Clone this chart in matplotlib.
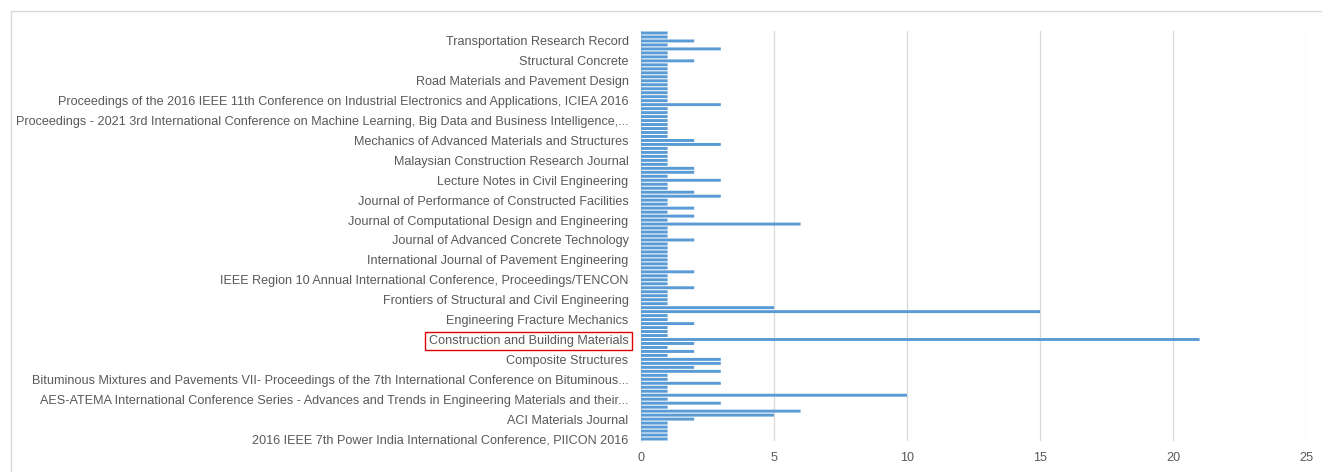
import matplotlib
matplotlib.use("Agg")
import matplotlib.pyplot as plt
from matplotlib.patches import Rectangle

# article counts per source, bottom (index 0) to top
counts = [
    1, 1, 1, 1, 1, 2, 5, 6, 1, 3,
    1, 10, 1, 1, 3, 1, 1, 3, 2, 3,
    3, 1, 2, 1, 2, 21, 1, 1, 1, 2,
    1, 1, 15, 5, 1, 1, 1, 1, 2, 1,
    1, 1, 2, 1, 1, 1, 1, 1, 1, 1,
    2, 1, 1, 1, 6, 1, 2, 1, 2, 1,
    1, 3, 2, 1, 1, 3, 1, 2, 2, 1,
    1, 1, 1, 1, 3, 2, 1, 1, 1, 1,
    1, 1, 1, 1, 3, 1, 1, 1, 1, 1,
    1, 1, 1, 1, 1, 2, 1, 1, 3, 1,
    2, 1, 1,
]

# only every 5th category is labelled on the axis
label_idx = list(range(0, 101, 5))
labels = [
    "2016 IEEE 7th Power India International Conference, PIICON 2016",
    "ACI Materials Journal",
    "AES-ATEMA International Conference Series - Advances and Trends in Engineering Materials and their...",
    "Bituminous Mixtures and Pavements VII- Proceedings of the 7th International Conference on Bituminous...",
    "Composite Structures",
    "Construction and Building Materials",
    "Engineering Fracture Mechanics",
    "Frontiers of Structural and Civil Engineering",
    "IEEE Region 10 Annual International Conference, Proceedings/TENCON",
    "International Journal of Pavement Engineering",
    "Journal of Advanced Concrete Technology",
    "Journal of Computational Design and Engineering",
    "Journal of Performance of Constructed Facilities",
    "Lecture Notes in Civil Engineering",
    "Malaysian Construction Research Journal",
    "Mechanics of Advanced Materials and Structures",
    "Proceedings - 2021 3rd International Conference on Machine Learning, Big Data and Business Intelligence,...",
    "Proceedings of the 2016 IEEE 11th Conference on Industrial Electronics and Applications, ICIEA 2016",
    "Road Materials and Pavement Design",
    "Structural Concrete",
    "Transportation Research Record",
]
highlight = "Construction and Building Materials"
xticks = [0, 5, 10, 15, 20, 25]

BAR_C = "#5B9BD5"
GRID_C = "#D9D9D9"
TXT_C = "#595959"

plt.rcParams["font.family"] = ["Liberation Sans", "DejaVu Sans"]

W, H = 1322, 472
fig = plt.figure(figsize=(W / 100, H / 100), dpi=100)
ax = fig.add_axes([641 / W, 31 / H, 665 / W, 410 / H])

bars = ax.barh(range(len(counts)), counts, height=0.74, color=BAR_C,
               lw=0, zorder=3)
for b in bars:
    b.set_snap(False)

ax.set_xlim(0, 25)
ax.set_ylim(-0.5, len(counts) - 0.5)
ax.set_xticks(xticks)
ax.set_yticks(label_idx)
ax.set_yticklabels(labels)
ax.tick_params(length=0, labelsize=9.1, labelcolor=TXT_C)
ax.tick_params(axis="y", pad=9)
ax.tick_params(axis="x", pad=8)
ax.grid(axis="x", color=GRID_C, lw=0.9, zorder=0)
for s in ("top", "right", "bottom"):
    ax.spines[s].set_visible(False)
ax.spines["left"].set_color(GRID_C)

for t in ax.get_yticklabels():
    if t.get_text() == highlight:
        t.set_bbox(dict(fc="none", ec="#E00000", lw=1.0, pad=2.5))

# chart-area border (runs off the right and bottom edges)
fig.patches.append(Rectangle((11 / W, -0.1), 1.2, (H - 11) / H + 0.1,
                             transform=fig.transFigure, fill=False,
                             ec=GRID_C, lw=1.0))

fig.savefig("out.png", dpi=100)
